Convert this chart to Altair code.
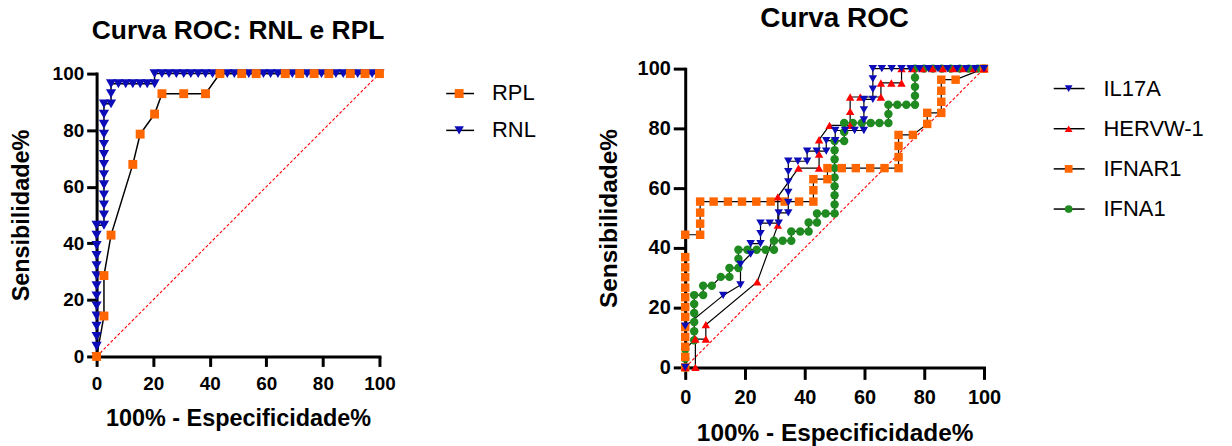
import altair as alt
import pandas as pd

FONT = "Liberation Sans"

# ---------------- Left chart data (RPL / RNL) ----------------
left_names = ["RPL", "RNL"]
RPL_x = [0, 2.6, 2.6, 5.1, 12.8, 15.4, 20.5, 23.1, 30.8, 38.5, 43.6, 51.3, 56.4, 66.7, 71.8, 76.9, 82.1, 89.7, 94.9, 100]
RPL_y = [0, 14.3, 28.6, 42.9, 67.9, 78.6, 85.7, 92.9, 92.9, 92.9, 100, 100, 100, 100, 100, 100, 100, 100, 100, 100]

RNL_x = [0, 0, 0, 0, 0, 0, 0, 0, 0, 0, 0, 0, 0, 0,
         2.6, 2.6, 2.6, 2.6, 2.6, 2.6, 2.6, 2.6, 2.6, 2.6, 2.6, 2.6, 2.6,
         5.1, 5.1, 5.1,
         7.7, 10.3, 12.8, 15.4, 17.9, 20.5,
         20.5,
         23.1, 25.6, 28.2, 30.8, 33.3, 35.9, 38.5, 41.0, 43.6, 46.2, 48.7, 51.3, 53.8, 56.4, 59.0, 61.5,
         64.1, 66.7, 69.2, 71.8, 74.4, 76.9, 79.5, 82.1, 84.6, 87.2, 89.7, 92.3, 94.9, 97.4, 100]
RNL_y = [0, 3.6, 7.1, 10.7, 14.3, 17.9, 21.4, 25.0, 28.6, 32.1, 35.7, 39.3, 42.9, 46.4,
         46.4, 50.0, 53.6, 57.1, 60.7, 64.3, 67.9, 71.4, 75.0, 78.6, 82.1, 85.7, 89.3,
         89.3, 92.9, 96.4,
         96.4, 96.4, 96.4, 96.4, 96.4, 96.4,
         100,
         100, 100, 100, 100, 100, 100, 100, 100, 100, 100, 100, 100, 100, 100, 100, 100,
         100, 100, 100, 100, 100, 100, 100, 100, 100, 100, 100, 100, 100, 100, 100]

# ---------------- Right chart data ----------------
right_names = ["IL17A", "HERVW-1", "IFNAR1", "IFNA1"]
IL17A_x = [0, 0, 12.7, 18.5, 18.5, 21.9, 21.9, 25.2, 25.2, 25.2, 28.3, 31.3, 31.3, 34.5, 34.5, 34.5, 34.5,
           34.5, 34.5, 37.7, 40.8, 40.8, 44.0, 47.2, 47.2, 50.2, 50.2, 53.5, 56.7, 59.8, 59.8, 59.8, 59.8,
           62.8, 62.8, 62.8, 62.8, 65.8, 69.1, 72.4, 75.4, 78.4, 81.4, 84.6, 87.8, 91.0, 94.1, 97.1, 100]
IL17A_y = [0, 13.8, 24.1, 27.6, 34.5, 37.9, 41.4, 41.4, 44.8, 48.3, 48.3, 48.3, 51.7, 51.7, 55.2, 58.6, 62.1,
           65.5, 69.0, 69.0, 69.0, 72.4, 72.4, 72.4, 75.9, 75.9, 79.3, 79.3, 79.3, 79.3, 82.8, 86.2, 89.7,
           89.7, 93.1, 96.6, 100, 100, 100, 100, 100, 100, 100, 100, 100, 100, 100, 100, 100]

HERVW_x = [0, 3.4, 3.4, 6.9, 6.9, 24.1, 31.0, 31.0, 37.9, 44.8, 44.8, 44.8, 48.3, 55.2, 55.2, 55.2, 58.6,
           65.5, 65.5, 69.0, 72.4, 72.4, 75.9, 79.3, 82.8, 86.2, 89.7, 93.1, 96.6, 100]
HERVW_y = [0, 0, 9.5, 9.5, 14.3, 28.6, 47.6, 57.1, 66.7, 66.7, 71.4, 76.2, 81.0, 81.0, 85.7, 90.5, 90.5,
           90.5, 95.2, 95.2, 95.2, 100, 100, 100, 100, 100, 100, 100, 100, 100]

IFNAR1_x = [0, 0, 0, 0, 0, 0, 0, 0, 0, 0, 0, 0, 0, 5.0, 5.0, 5.0, 5.0, 9.5, 14.3, 19.0, 23.8, 28.6, 33.3,
            38.1, 42.9, 42.9, 42.9, 47.6, 47.6, 52.4, 57.1, 61.9, 66.7, 71.4, 71.4, 71.4, 71.4, 76.2, 81.0,
            81.0, 85.7, 85.7, 85.7, 85.7, 90.5, 100]
IFNAR1_y = [0, 3.5, 6.9, 10.2, 13.5, 16.9, 20.2, 23.5, 26.7, 30.2, 33.5, 36.9, 44.4, 44.4, 48.1, 51.8, 55.5,
            55.5, 55.5, 55.5, 55.5, 55.5, 55.5, 55.5, 55.5, 59.3, 63.0, 63.0, 66.7, 66.7, 66.7, 66.7, 66.7,
            66.7, 70.4, 74.1, 77.8, 77.8, 81.5, 85.2, 85.2, 88.9, 92.6, 96.3, 96.3, 100]

IFNA1_x = [0, 0, 0, 3.0, 3.0, 3.0, 3.0, 3.0, 3.0, 6.0, 6.0, 8.9, 11.9, 14.8, 14.8, 17.8, 17.8, 17.8, 20.8,
           23.9, 26.9, 29.7, 29.7, 32.6, 35.5, 35.5, 38.5, 41.3, 41.3, 44.1, 44.1, 47.0, 50.0, 50.0, 50.0,
           50.0, 50.0, 50.0, 50.0, 50.0, 50.0, 53.2, 53.2, 53.2, 56.1, 59.1, 62.1, 65.0, 68.0, 68.0, 68.0,
           71.0, 74.0, 76.9, 76.9, 76.9, 76.9, 76.9, 79.9, 82.9, 85.9, 88.9, 91.9, 94.9, 97.9, 100]
IFNA1_y = [0, 3.0, 6.1, 9.1, 12.1, 15.2, 18.2, 21.2, 24.2, 24.2, 27.3, 27.3, 30.3, 30.3, 33.3, 33.3, 36.4,
           39.4, 39.4, 39.4, 39.4, 39.4, 42.4, 42.4, 42.4, 45.5, 45.5, 45.5, 48.5, 48.5, 51.5, 51.5, 51.5,
           54.5, 57.6, 60.6, 63.6, 66.7, 69.7, 72.7, 75.8, 75.8, 78.8, 81.8, 81.8, 81.8, 81.8, 81.8, 81.8,
           84.8, 87.9, 87.9, 87.9, 87.9, 90.9, 93.9, 97.0, 100, 100, 100, 100, 100, 100, 100, 100, 100]

diag_x = [0, 100]
diag_y = [0, 100]
ticks = [0, 20, 40, 60, 80, 100]


def make_df(names, xs, ys):
    rows = []
    for n, xl, yl in zip(names, xs, ys):
        for i, (x, y) in enumerate(zip(xl, yl)):
            rows.append({"series": n, "x": x, "y": y, "i": i})
    return pd.DataFrame(rows)


def axis(title, tick_len, label_size, title_size, label_pad, title_pad):
    return alt.Axis(values=ticks, title=title, grid=False,
                    domainColor="black", domainWidth=3, domainCap="square",
                    tickColor="black", tickWidth=3, tickSize=tick_len,
                    labelFont=FONT, labelFontWeight="bold", labelFontSize=label_size,
                    labelColor="black", labelPadding=label_pad, labelFlush=False, labelOverlap=False,
                    titleFont=FONT, titleFontWeight="bold", titleFontSize=title_size,
                    titleColor="black", titlePadding=title_pad)


def panel(df, names, colors, shapes, sizes, w, h, yoff, title, title_size, title_offset,
          tick_len, label_size, axis_title_size, xlpad, xpad, ylpad, ypad, line_w):
    xenc = alt.X("x:Q", scale=alt.Scale(domain=[0, 100], nice=False, zero=False),
                 axis=axis("100% - Especificidade%", tick_len, label_size, axis_title_size, xlpad, xpad))
    yenc = alt.Y("y:Q", scale=alt.Scale(domain=[0, 100], nice=False, zero=False, range=[h + yoff, yoff]),
                 axis=axis("Sensibilidade%", tick_len, label_size, axis_title_size, ylpad, ypad))
    ddf = pd.DataFrame({"x": diag_x, "y": diag_y})
    diag = alt.Chart(ddf).mark_line(color="#ff0000", strokeDash=[3, 2], strokeWidth=1.1).encode(x=xenc, y=yenc)
    base = alt.Chart(df)
    lines = base.mark_line(color="black", strokeWidth=line_w).encode(
        x=xenc, y=yenc, detail="series:N", order="i:Q")
    pts = base.mark_point(filled=True, opacity=1, strokeWidth=0).encode(
        x=xenc, y=yenc,
        shape=alt.Shape("series:N", scale=alt.Scale(domain=names, range=shapes), legend=None),
        color=alt.Color("series:N", scale=alt.Scale(domain=names, range=colors), legend=None),
        size=alt.Size("series:N", scale=alt.Scale(domain=names, range=sizes), legend=None))
    return alt.layer(diag, lines, pts).properties(
        width=w, height=h + yoff,
        title=alt.TitleParams(title, font=FONT, fontSize=title_size, fontWeight="bold",
                              color="black", offset=title_offset, anchor="middle", frame="group"))


def legend(names, colors, shapes, sizes, ypos, x_line, x_sym, x_text, w, h, font_size):
    ldf = pd.DataFrame({"series": names})
    y = alt.Y("series:N", scale=alt.Scale(type="point", domain=names, range=ypos, padding=0), axis=None)
    rule = alt.Chart(ldf).mark_rule(color="black", strokeWidth=1.5).encode(
        y=y, x=alt.value(x_line[0]), x2=alt.value(x_line[1]))
    pts = alt.Chart(ldf).mark_point(filled=True, opacity=1, strokeWidth=0).encode(
        y=y, x=alt.value(x_sym),
        shape=alt.Shape("series:N", scale=alt.Scale(domain=names, range=shapes), legend=None),
        color=alt.Color("series:N", scale=alt.Scale(domain=names, range=colors), legend=None),
        size=alt.Size("series:N", scale=alt.Scale(domain=names, range=sizes), legend=None))
    txt = alt.Chart(ldf).mark_text(align="left", baseline="middle", font=FONT, fontSize=font_size,
                                   color="black").encode(y=y, x=alt.value(x_text), text="series:N")
    return alt.layer(rule, pts, txt).properties(width=w, height=h)


left_colors = ["#ff6600", "#0c0cb8"]
left_shapes = ["square", "triangle-down"]
left_sizes = [80, 105]
# draw RNL first, RPL on top
left_df = make_df(["RNL", "RPL"], [RNL_x, RPL_x], [RNL_y, RPL_y])
left = panel(left_df, left_names, left_colors, left_shapes, left_sizes, 284, 284, 5,
             "Curva ROC: RNL e RPL", 26.5, 20, 10, 19, 23.5, 8, 13, 3, 19, 1.5)

right_colors = ["#0c0cb8", "#ff0000", "#ff6600", "#1f8a1f"]
right_shapes = ["triangle-down", "triangle-up", "square", "circle"]
right_sizes = [72, 72, 55, 50]
right_df = make_df(["IFNA1", "IFNAR1", "HERVW-1", "IL17A"],
                   [IFNA1_x, IFNAR1_x, HERVW_x, IL17A_x],
                   [IFNA1_y, IFNAR1_y, HERVW_y, IL17A_y])
right = panel(right_df, right_names, right_colors, right_shapes, right_sizes, 300, 300, 0,
              "Curva ROC", 28, 26, 12, 20, 24.5, 8, 14, 3, 16, 1.2)

left_leg = legend(left_names, left_colors, left_shapes, [80, 90], [25, 62], (67, 95), 80, 113, 307, 300, 22)
right_leg = legend(right_names, right_colors, right_shapes, [60, 60, 50, 45], [20, 141], (70, 101), 85, 120,
                   249, 300, 22)

chart = alt.hconcat(left, left_leg, right, right_leg, spacing=0, bounds="flush").resolve_scale(
    color="independent", shape="independent", size="independent").configure_view(
    stroke=None).properties(padding={"left": 9, "top": 4, "right": 0, "bottom": 0})

chart.save("out.html", embed_options={"renderer": "svg", "actions": False})
